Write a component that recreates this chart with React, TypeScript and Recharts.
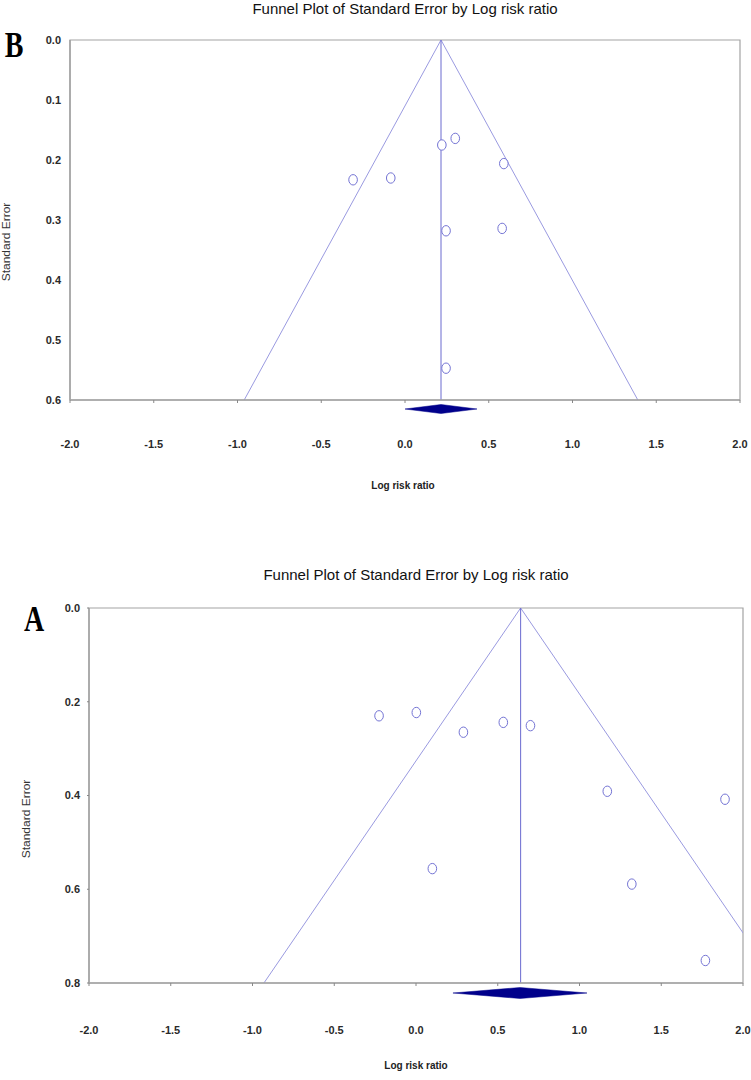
import React from "react";
import {
  ComposedChart,
  Scatter,
  XAxis,
  YAxis,
  ReferenceLine,
  ReferenceArea,
} from "recharts";

// panel B: studies (log risk ratio, standard error)
const logRrB = [0.22, 0.3, 0.59, -0.085, -0.31, 0.245, 0.58, 0.245];
const seB = [0.175, 0.164, 0.206, 0.23, 0.233, 0.318, 0.314, 0.547];
// pooled estimate and funnel limits at the bottom of the plot
const pooledB = 0.215;
const funnelLoB = -0.96;
const funnelHiB = 1.39;
const ciB = [0.0, 0.43];
const yTicksB = [0, 0.1, 0.2, 0.3, 0.4, 0.5, 0.6];

// panel A
const logRrA = [-0.226, 0.002, 0.29, 0.534, 0.7, 1.17, 1.89, 0.1, 1.32, 1.77];
const seA = [0.23, 0.223, 0.265, 0.244, 0.251, 0.391, 0.408, 0.556, 0.589, 0.752];
const pooledA = 0.64;
const funnelLoA = -0.93;
const funnelHiA = 2.21;
const ciA = [0.226, 1.046];
const yTicksA = [0, 0.2, 0.4, 0.6, 0.8];

const xTicks = [-2, -1.5, -1, -0.5, 0, 0.5, 1, 1.5, 2];

const AXIS = "#a3a3a3";
const FUNNEL = "#9a9ae0";
const MID = "#6a6acf";
const DOT = "#7474d4";
const NAVY = "#00008b";
const TEXT_FONT = '"Liberation Sans", Arial, sans-serif';

const Ring = (props: any) => {
  const { cx, cy } = props;
  if (cx == null || cy == null) return null;
  return <ellipse cx={cx} cy={cy} rx={4.3} ry={5.2} fill="#fff" stroke={DOT} strokeWidth={1} />;
};

const diamond = (offset: number, half: number) => (props: any) => {
  const { x1, y1, x2 } = props;
  const cy = y1 + offset;
  const mx = (x1 + x2) / 2;
  return (
    <polygon
      points={`${x1},${cy} ${mx},${cy - half} ${x2},${cy} ${mx},${cy + half}`}
      fill={NAVY}
      stroke={NAVY}
      strokeWidth={0.5}
    />
  );
};

type PanelProps = {
  top: number;
  height: number;
  margin: { top: number; right: number; bottom: number; left: number };
  yWidth: number;
  xs: number[];
  ses: number[];
  pooled: number;
  lo: number;
  hi: number;
  ci: number[];
  yMax: number;
  yTicks: number[];
  yTickLine: boolean;
  xTickMargin: number;
  diamondOffset: number;
  diamondHalf: number;
};

function FunnelPanel(p: PanelProps) {
  const data = p.xs.map((x, i) => ({ x, se: p.ses[i] }));
  const tick = { fill: "#2a2a2a", fontSize: 11, fontWeight: 700, fontFamily: TEXT_FONT };
  return (
    <div style={{ position: "absolute", left: 0, top: p.top }}>
      <ComposedChart width={751} height={p.height} margin={p.margin}>
        <XAxis
          type="number"
          dataKey="x"
          domain={[-2, 2]}
          ticks={xTicks}
          allowDataOverflow
          height={30}
          tickFormatter={(v: number) => v.toFixed(1)}
          axisLine={{ stroke: AXIS, strokeWidth: 1.5 }}
          tickLine={{ stroke: "#888" }}
          tickSize={3}
          tickMargin={p.xTickMargin}
          tick={tick}
        />
        <YAxis
          type="number"
          dataKey="se"
          reversed
          domain={[0, p.yMax]}
          ticks={p.yTicks}
          allowDataOverflow
          width={p.yWidth}
          tickFormatter={(v: number) => v.toFixed(1)}
          axisLine={{ stroke: AXIS, strokeWidth: 1.5 }}
          tickLine={p.yTickLine ? { stroke: "#888" } : false}
          tickSize={2}
          tickMargin={7}
          tick={tick}
        />
        <ReferenceArea
          x1={-2}
          x2={2}
          y1={0}
          y2={p.yMax}
          fill="none"
          stroke={AXIS}
          strokeWidth={1.2}
          ifOverflow="visible"
        />
        <ReferenceLine
          segment={[{ x: p.pooled, y: 0 }, { x: p.lo, y: p.yMax }]}
          stroke={FUNNEL}
          strokeWidth={1}
          ifOverflow="hidden"
        />
        <ReferenceLine
          segment={[{ x: p.pooled, y: 0 }, { x: p.hi, y: p.yMax }]}
          stroke={FUNNEL}
          strokeWidth={1}
          ifOverflow="hidden"
        />
        <ReferenceLine
          segment={[{ x: p.pooled, y: 0 }, { x: p.pooled, y: p.yMax }]}
          stroke={MID}
          strokeWidth={1}
          ifOverflow="hidden"
        />
        <ReferenceLine
          segment={[{ x: p.ci[0], y: p.yMax }, { x: p.ci[1], y: p.yMax }]}
          ifOverflow="visible"
          shape={diamond(p.diamondOffset, p.diamondHalf)}
        />
        <Scatter data={data} dataKey="se" shape={Ring} isAnimationActive={false} />
      </ComposedChart>
    </div>
  );
}

const abs = (left: number, top: number, extra: React.CSSProperties = {}): React.CSSProperties => ({
  position: "absolute",
  left,
  top,
  transform: "translate(-50%, -50%)",
  whiteSpace: "nowrap",
  ...extra,
});

const titleStyle: React.CSSProperties = { fontFamily: TEXT_FONT, fontSize: 15, color: "#111" };
const xLabelStyle: React.CSSProperties = { fontFamily: TEXT_FONT, fontSize: 10, fontWeight: 700, color: "#222" };
const yLabelStyle: React.CSSProperties = { fontFamily: TEXT_FONT, fontSize: 10, color: "#333" };
const letterStyle: React.CSSProperties = {
  fontFamily: '"Liberation Serif", "Times New Roman", serif',
  fontSize: 28,
  fontWeight: 700,
  color: "#000",
  lineHeight: 1,
};

export default function App() {
  return (
    <div style={{ position: "relative", width: 751, height: 1080, background: "#fff", overflow: "hidden" }}>
      <style>{`body{margin:0;}`}</style>

      <FunnelPanel
        top={0}
        height={480}
        margin={{ top: 40, right: 11, bottom: 50, left: 0 }}
        yWidth={70}
        xs={logRrB}
        ses={seB}
        pooled={pooledB}
        lo={funnelLoB}
        hi={funnelHiB}
        ci={ciB}
        yMax={0.6}
        yTicks={yTicksB}
        yTickLine={false}
        xTickMargin={37}
        diamondOffset={9}
        diamondHalf={4.5}
      />
      <FunnelPanel
        top={560}
        height={480}
        margin={{ top: 48, right: 8, bottom: 27, left: 0 }}
        yWidth={89}
        xs={logRrA}
        ses={seA}
        pooled={pooledA}
        lo={funnelLoA}
        hi={funnelHiA}
        ci={ciA}
        yMax={0.8}
        yTicks={yTicksA}
        yTickLine={true}
        xTickMargin={40}
        diamondOffset={10}
        diamondHalf={5.5}
      />

      <div style={abs(405, 8, titleStyle)}>Funnel Plot of Standard Error by Log risk ratio</div>
      <div style={abs(14, 45, { ...letterStyle, transform: "translate(-50%, -50%) scaleY(1.3)" })}>B</div>
      <div style={abs(403, 485, xLabelStyle)}>Log risk ratio</div>
      <div style={abs(6, 242, { ...yLabelStyle, transform: "translate(-50%, -50%) rotate(-90deg) scaleX(1.2)" })}>
        Standard Error
      </div>

      <div style={abs(416, 574, titleStyle)}>Funnel Plot of Standard Error by Log risk ratio</div>
      <div style={abs(34, 619, { ...letterStyle, transform: "translate(-50%, -50%) scaleY(1.3)" })}>A</div>
      <div style={abs(416, 1065, xLabelStyle)}>Log risk ratio</div>
      <div style={abs(26, 819, { ...yLabelStyle, transform: "translate(-50%, -50%) rotate(-90deg) scaleX(1.2)" })}>
        Standard Error
      </div>
    </div>
  );
}
